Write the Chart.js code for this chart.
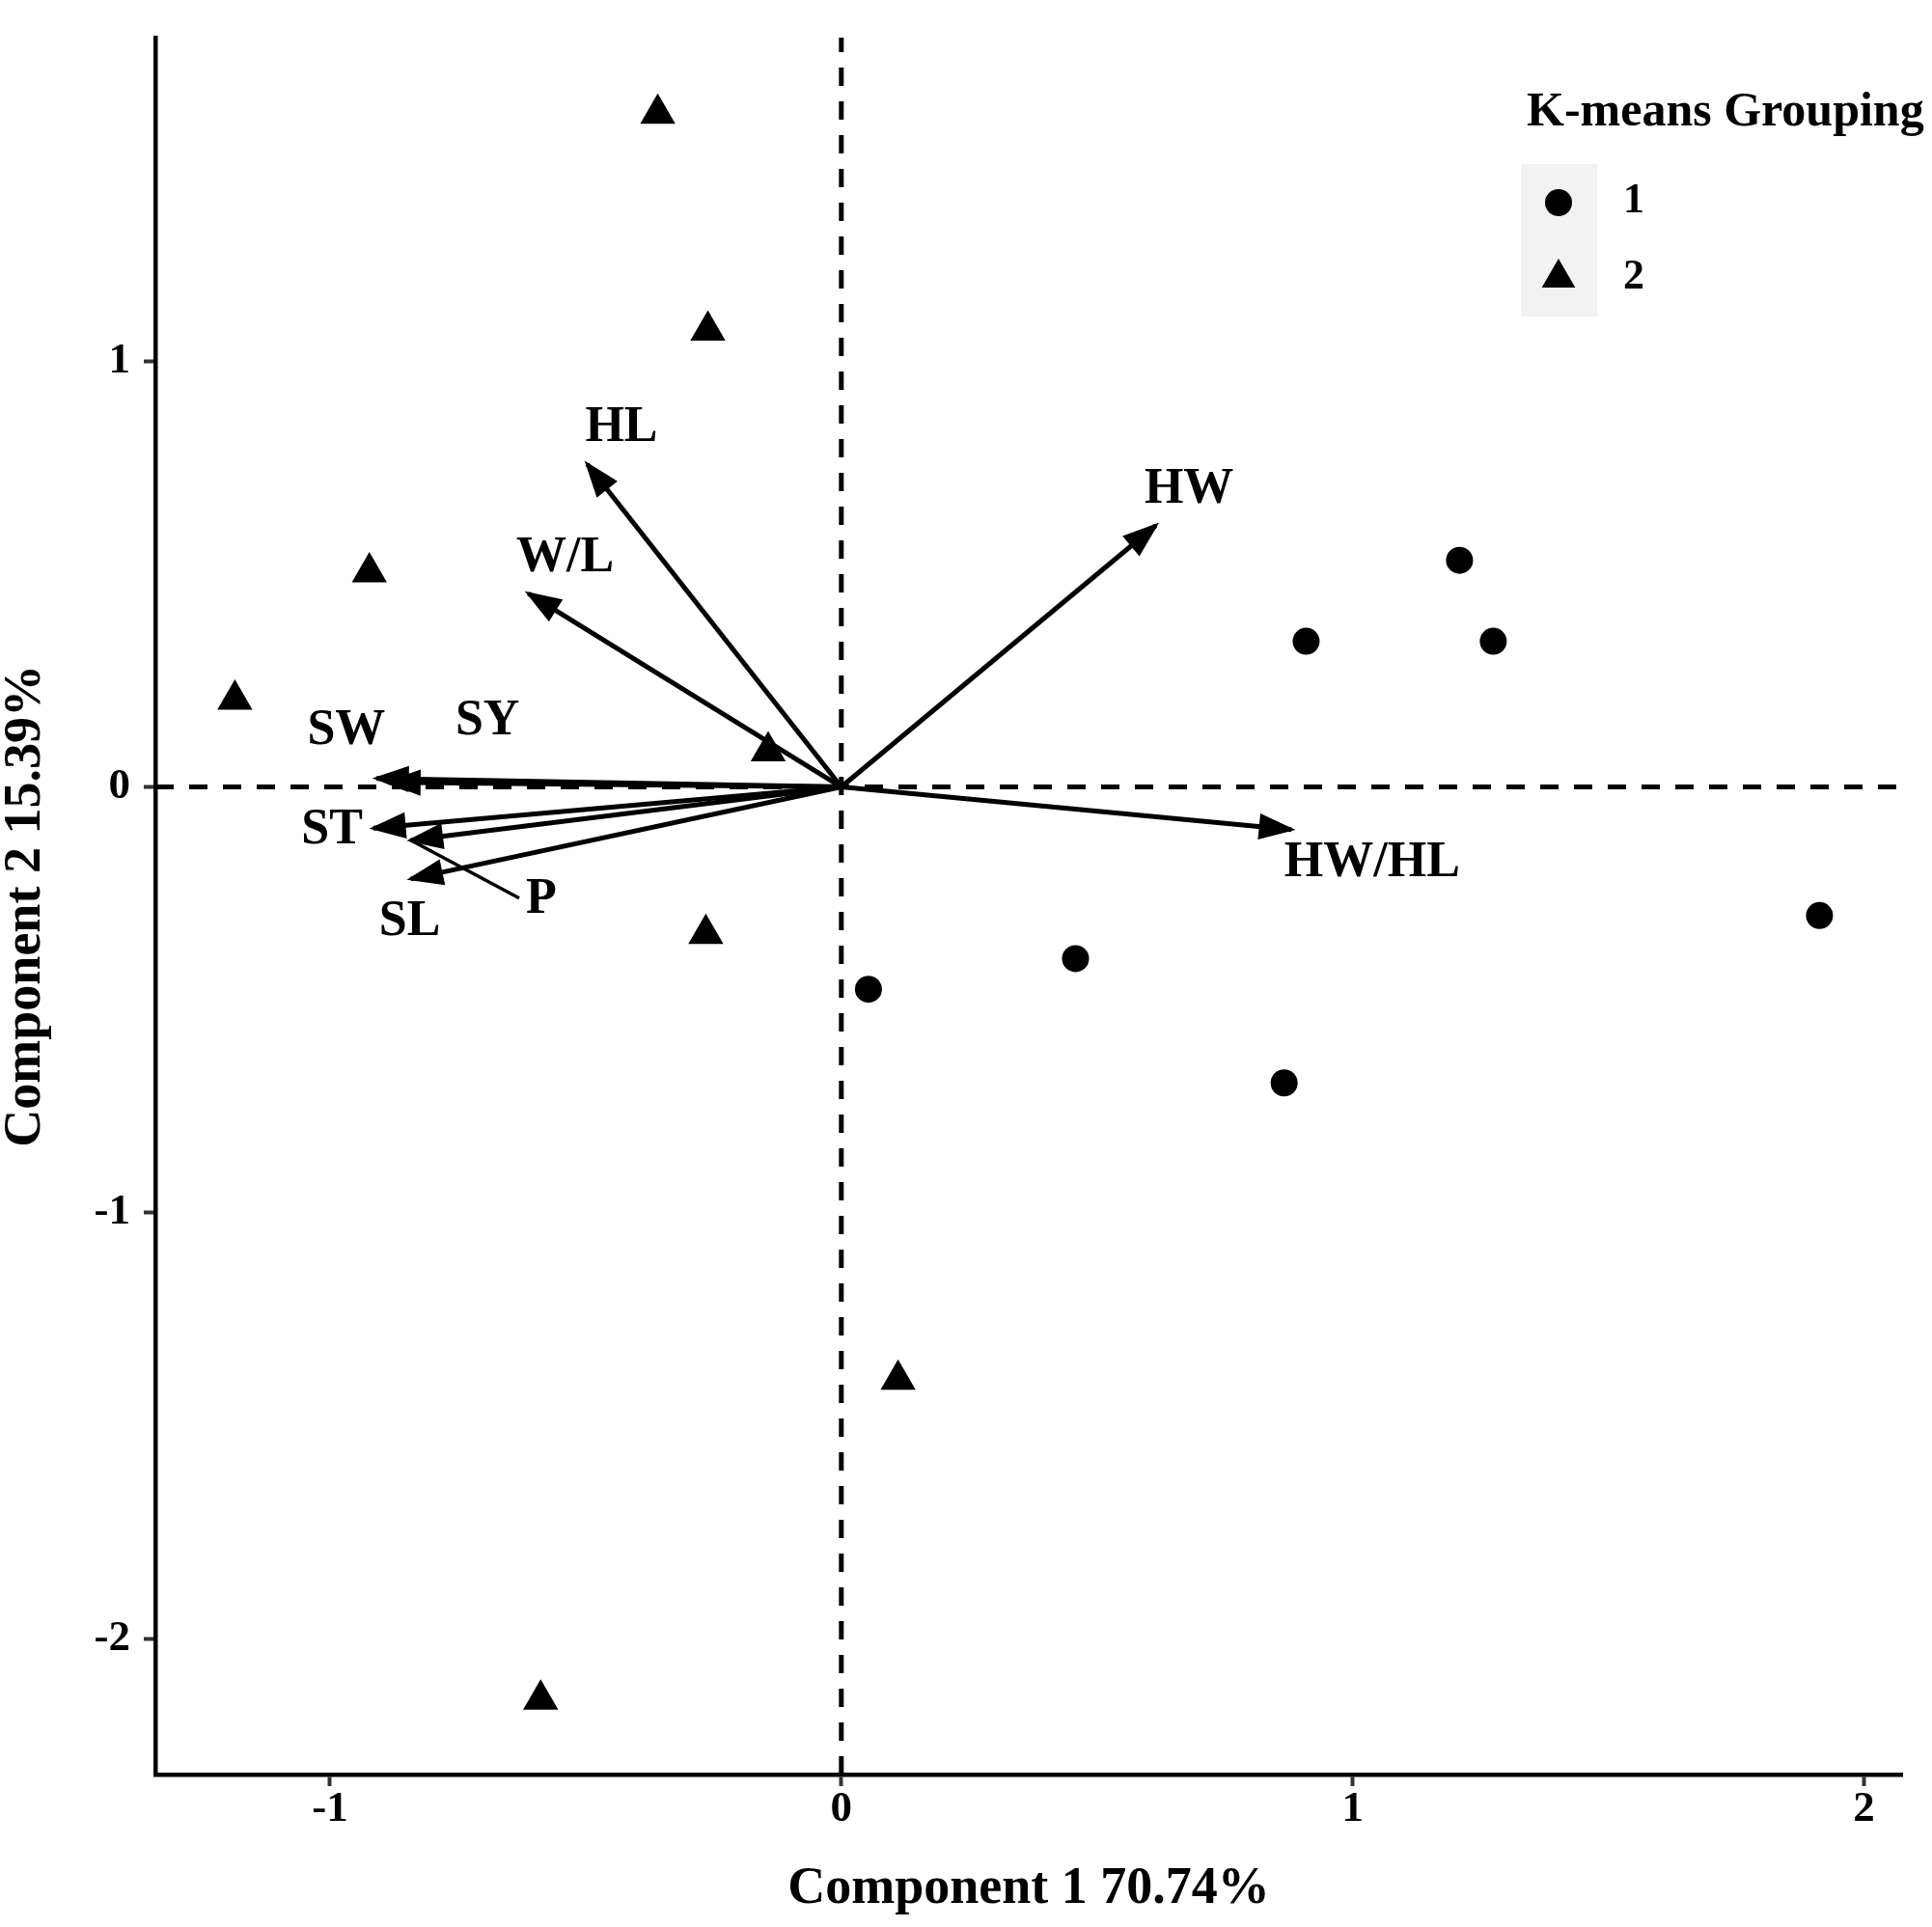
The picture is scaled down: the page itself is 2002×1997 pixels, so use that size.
<!DOCTYPE html>
<html>
<head>
<meta charset="utf-8">
<script src="https://cdn.jsdelivr.net/npm/chart.js@4.4.1/dist/chart.umd.min.js"></script>
<style>
  html, body { margin: 0; padding: 0; background: #fff; }
  #pca { display: block; }
</style>
</head>
<body>
<canvas id="pca" width="2002" height="1997"></canvas>
<script>
const FONT = '"Liberation Serif", "Times New Roman", serif';

// axis ranges and ticks
const xRange = [-1.3415, 2.0745];
const yRange = [-2.319, 1.76];
const xTicks = [-1, 0, 1, 2];
const yTicks = [-2, -1, 0, 1];

// individuals, K-means group 1 (circles) and group 2 (triangles)
const group1X = [1.209, 0.909, 1.275, 1.913, 0.458, 0.053, 0.866];
const group1Y = [0.532, 0.342, 0.342, -0.302, -0.403, -0.475, -0.695];
const group2X = [-0.359, -0.261, -0.923, -1.186, -0.143, -0.265, 0.111, -0.588];
const group2Y = [1.581, 1.072, 0.504, 0.205, 0.084, -0.345, -1.392, -2.143];

// variable loadings (arrow tips) and where their labels sit
const varNames = ['HL', 'W/L', 'HW', 'HW/HL', 'SW', 'SY', 'ST', 'P', 'SL'];
const varX = [-0.497, -0.612, 0.615, 0.880, -0.909, -0.886, -0.915, -0.842, -0.842];
const varY = [0.758, 0.454, 0.614, -0.100, 0.020, 0.011, -0.097, -0.125, -0.216];
const labelX = [-0.430, -0.540, 0.680, 1.038, -0.968, -0.692, -0.996, -0.587, -0.844];
const labelY = [0.842, 0.538, 0.697, -0.180, 0.132, 0.154, -0.102, -0.266, -0.318];

// the P label was pushed away, so it has a connector back to its arrow
const leaderX = [-0.842, -0.630];
const leaderY = [-0.125, -0.261];

const legendTitle = 'K-means Grouping';
const legendLabels = ['1', '2'];
const legendStyles = ['circle', 'triangle'];

function pts(xs, ys) {
    return xs.map((v, i) => ({x: v, y: ys[i]}));
}

const refLine = {
    showLine: true, borderColor: '#000', borderWidth: 5, borderDash: [19, 16],
    pointRadius: 0, order: 10
};

const datasets = [
    Object.assign({data: [{x: 0, y: yRange[0]}, {x: 0, y: yRange[1]}]}, refLine),
    Object.assign({data: [{x: xRange[0], y: 0}, {x: xRange[1], y: 0}]}, refLine),
    {
        label: '1', data: pts(group1X, group1Y), pointStyle: 'circle', pointRadius: 14,
        backgroundColor: '#000', borderWidth: 0, order: 5
    },
    {
        label: '2', data: pts(group2X, group2Y), pointStyle: 'triangle', pointRadius: 21,
        backgroundColor: '#000', borderWidth: 0, order: 5
    },
    {
        data: pts(leaderX, leaderY), showLine: true, borderColor: '#000', borderWidth: 3.5,
        pointRadius: 0, order: 2
    }
];

varNames.forEach((n, i) => {
    datasets.push({
        label: n,
        data: [{x: 0, y: 0}, {x: varX[i], y: varY[i]}],
        showLine: true, borderColor: '#000', borderWidth: 5,
        pointRadius: 0, order: 1
    });
});

// arrow heads, variable names and the legend
const biplotExtras = {
    id: 'biplotExtras',
    afterDatasetsDraw(chart) {
        const {ctx, scales: {x, y}} = chart;
        const x0 = x.getPixelForValue(0);
        const y0 = y.getPixelForValue(0);
        ctx.save();
        ctx.fillStyle = '#000';
        ctx.strokeStyle = '#000';
        ctx.lineWidth = 3;
        ctx.lineJoin = 'miter';
        varX.forEach((vx, i) => {
            const tx = x.getPixelForValue(vx);
            const ty = y.getPixelForValue(varY[i]);
            const a = Math.atan2(ty - y0, tx - x0);
            const len = 32, half = 11.5;
            const bx = tx - len * Math.cos(a);
            const by = ty - len * Math.sin(a);
            ctx.beginPath();
            ctx.moveTo(tx, ty);
            ctx.lineTo(bx + half * Math.sin(a), by - half * Math.cos(a));
            ctx.lineTo(bx - half * Math.sin(a), by + half * Math.cos(a));
            ctx.closePath();
            ctx.fill();
            ctx.stroke();
        });

        ctx.font = 'bold 52px ' + FONT;
        ctx.textAlign = 'center';
        ctx.textBaseline = 'middle';
        varNames.forEach((n, i) => {
            ctx.fillText(n, x.getPixelForValue(labelX[i]), y.getPixelForValue(labelY[i]));
        });

        // legend
        const lx = 1582, ly = 130;
        ctx.font = 'bold 50px ' + FONT;
        ctx.textAlign = 'left';
        ctx.textBaseline = 'alphabetic';
        ctx.fillText(legendTitle, lx, ly);
        ctx.fillStyle = '#f2f2f2';
        ctx.fillRect(lx - 6, 170, 79, 158);
        ctx.font = 'bold 44px ' + FONT;
        legendLabels.forEach((lab, i) => {
            const cy = 210 + i * 78;
            ctx.fillStyle = '#000';
            Chart.helpers.drawPoint(ctx, {
                pointStyle: legendStyles[i], radius: i === 0 ? 14 : 20, borderWidth: 0, rotation: 0
            }, 1615, cy);
            ctx.fillStyle = '#000';
            ctx.fillText(lab, 1682, cy + 10 + i * 1);
        });
        ctx.restore();
    }
};

const tickFont = {family: FONT, size: 45, weight: 'bold', lineHeight: 1.1};
const titleFont = {family: FONT, size: 54, weight: 'bold', lineHeight: 1};

new Chart(document.getElementById('pca'), {
    type: 'scatter',
    data: {datasets: datasets},
    options: {
        responsive: false,
        devicePixelRatio: 1,
        animation: false,
        layout: {padding: {top: 34, right: 31, left: 0, bottom: 0}},
        plugins: {legend: {display: false}, tooltip: {enabled: false}},
        scales: {
            x: {
                type: 'linear', min: xRange[0], max: xRange[1],
                afterBuildTicks: s => { s.ticks = xTicks.map(v => ({value: v})); },
                afterFit: s => { s.height = 158; },
                grid: {drawOnChartArea: false, tickLength: 12, tickWidth: 4, tickColor: '#333'},
                border: {color: '#000', width: 4.5},
                ticks: {color: '#000', font: tickFont, padding: 0, callback: v => String(v)},
                title: {
                    display: true, text: 'Component 1 70.74%', color: '#000',
                    font: titleFont, padding: {top: 0, bottom: 12}
                }
            },
            y: {
                type: 'linear', min: yRange[0], max: yRange[1],
                afterBuildTicks: s => { s.ticks = yTicks.map(v => ({value: v})); },
                afterFit: s => { s.width = 161; },
                grid: {drawOnChartArea: false, tickLength: 12, tickWidth: 4, tickColor: '#333'},
                border: {color: '#000', width: 4.5},
                ticks: {color: '#000', font: tickFont, padding: 14, callback: v => String(v)},
                title: {
                    display: true, text: 'Component 2 15.39%', color: '#000',
                    font: titleFont, padding: {top: 0, bottom: 0}
                }
            }
        }
    },
    plugins: [biplotExtras]
});
</script>
</body>
</html>
